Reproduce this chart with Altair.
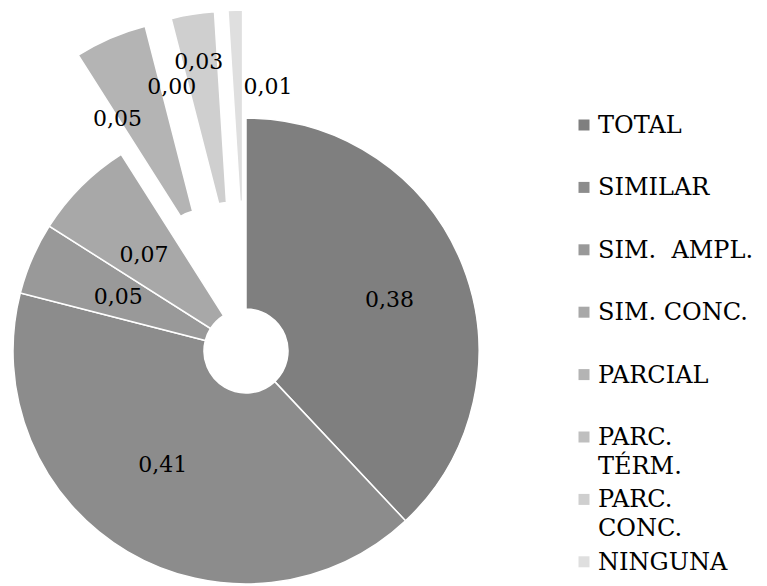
import altair as alt
import pandas as pd

# Share of each match type
categories = ["TOTAL", "SIMILAR", "SIM.  AMPL.", "SIM. CONC.",
              "PARCIAL", "PARC. TÉRM.", "PARC. CONC.", "NINGUNA"]
shares = [0.38, 0.41, 0.05, 0.07, 0.05, 0.00, 0.03, 0.01]
legend_labels = ["TOTAL", "SIMILAR", "SIM.\u00a0 AMPL.", "SIM. CONC.",
                 "PARCIAL", "PARC.\nTÉRM.", "PARC.\nCONC.", "NINGUNA"]
exploded = ["PARCIAL", "PARC. TÉRM.", "PARC. CONC.", "NINGUNA"]
grays = ["#7f7f7f", "#8c8c8c", "#999999", "#a8a8a8",
         "#b4b4b4", "#bfbfbf", "#cfcfcf", "#dfdfdf"]

# Layout
CX, CY = 246, 351          # pie centre
R_OUT, R_IN = 233, 42      # outer / hole radius
EXPLODE = 108              # distance the detached slices are pulled out
LABEL_R = 150              # label distance from a slice's own centre
FONT = "DejaVu Serif"
# small hand adjustments so crowded labels do not collide
label_nudge = {
    "TOTAL": (4, 4), "SIMILAR": (-7, -15), "SIM.  AMPL.": (10, 6),
    "SIM. CONC.": (4, 10), "PARCIAL": (-26, 5), "PARC. TÉRM.": (-10, -14),
    "PARC. CONC.": (-7, -34), "NINGUNA": (30, -6),
}
LEG_SWATCH_X, LEG_TEXT_X = 584, 598
LEG_BASE0, LEG_STEP = 133, 62.4

pie = pd.DataFrame({"category": categories, "share": shares,
                    "order": list(range(len(categories)))})
pie["exploded"] = pie["category"].isin(exploded)
pie["dx"] = [label_nudge[c][0] for c in categories]
pie["dy"] = [label_nudge[c][1] for c in categories]

total = sum(shares)
color = alt.Color("category:N", scale=alt.Scale(domain=categories, range=grays),
                  legend=None)

base = (
    alt.Chart(pie)
    .transform_window(cum="sum(share)", sort=[alt.SortField("order")],
                      frame=[None, 0])
    .transform_calculate(
        start="datum.cum - datum.share",
        mid=f"2 * PI * (datum.cum - datum.share / 2) / {total}",
        off=f"datum.exploded ? {EXPLODE} : 0",
    )
    .transform_calculate(
        cx=f"{CX} + datum.off * sin(datum.mid)",
        cy=f"{CY} - datum.off * cos(datum.mid)",
    )
)

arcs = base.mark_arc(innerRadius=R_IN, outerRadius=R_OUT,
                     stroke="white", strokeWidth=1.5).encode(
    theta=alt.Theta("start:Q", scale=alt.Scale(domain=[0, total])),
    theta2="cum:Q",
    x=alt.X("cx:Q", scale=None, axis=None),
    y=alt.Y("cy:Q", scale=None, axis=None),
    color=color,
)

labels = base.transform_calculate(
    lx=f"datum.cx + {LABEL_R} * sin(datum.mid) + datum.dx",
    ly=f"datum.cy - {LABEL_R} * cos(datum.mid) + datum.dy",
    txt="replace(format(datum.share, '.2f'), '.', ',')",
).mark_text(font=FONT, fontSize=22, color="black",
            align="center", baseline="middle").encode(
    x=alt.X("lx:Q", scale=None, axis=None),
    y=alt.Y("ly:Q", scale=None, axis=None),
    text="txt:N",
)

leg = pd.DataFrame({"category": categories, "label": legend_labels,
                    "idx": list(range(len(categories)))})
leg_base = alt.Chart(leg).transform_calculate(
    by=f"{LEG_BASE0} + {LEG_STEP} * datum.idx",
    sy=f"{LEG_BASE0} + {LEG_STEP} * datum.idx - 8",
)
swatches = leg_base.mark_square(size=121, opacity=1).encode(
    x=alt.value(LEG_SWATCH_X),
    y=alt.Y("sy:Q", scale=None, axis=None),
    color=color,
)
leg_text = leg_base.mark_text(font=FONT, fontSize=24, color="black",
                              align="left", baseline="alphabetic",
                              lineBreak="\n", lineHeight=29).encode(
    x=alt.value(LEG_TEXT_X),
    y=alt.Y("by:Q", scale=None, axis=None),
    text="label:N",
)

chart = (
    alt.layer(arcs, labels, swatches, leg_text)
    .properties(width=767, height=586, padding=0,
                autosize=alt.AutoSizeParams(type="none"),
                background="white")
    .configure_view(stroke=None)
)

chart.save("out.html", embed_options={"renderer": "svg", "actions": False})
